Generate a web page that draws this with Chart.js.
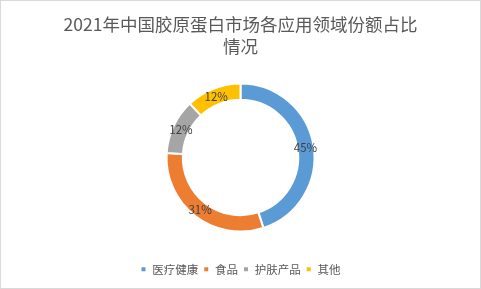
<!DOCTYPE html>
<html>
<head>
<meta charset="utf-8">
<script src="https://cdn.jsdelivr.net/npm/chart.js@4.4.0/dist/chart.umd.min.js"></script>
<style>
html,body{margin:0;padding:0;background:#fff;}
#wrap{width:481px;height:289px;position:relative;}
</style>
</head>
<body>
<div id="wrap"><canvas id="c" width="481" height="289"></canvas></div>
<script>
const titleLines = ['2021年中国胶原蛋白市场各应用领域份额占比', '情况'];
const categories = ['医疗健康', '食品', '护肤产品', '其他'];
const shares = [45, 31, 12, 12];
const colors = ['#5B9BD5', '#ED7D31', '#A5A5A5', '#FFC000'];

const FONT = '"Noto Sans CJK SC", "Noto Sans", sans-serif';

const frame = {
  id: 'frame',
  beforeDraw(chart) {
    const ctx = chart.ctx;
    ctx.save();
    ctx.fillStyle = '#fff';
    ctx.fillRect(0, 0, chart.width, chart.height);
    ctx.strokeStyle = '#D9D9D9';
    ctx.lineWidth = 1;
    ctx.strokeRect(0.5, 0.5, chart.width - 1, chart.height - 1);
    ctx.restore();
  }
};

const sliceLabels = {
  id: 'sliceLabels',
  afterDatasetsDraw(chart) {
    const ctx = chart.ctx;
    const meta = chart.getDatasetMeta(0);
    ctx.save();
    ctx.font = '11.5px ' + FONT;
    ctx.fillStyle = '#404040';
    ctx.textAlign = 'center';
    ctx.textBaseline = 'middle';
    meta.data.forEach((arc, i) => {
      const p = arc.tooltipPosition();
      ctx.fillText(shares[i] + '%', p.x, p.y);
    });
    ctx.restore();
  }
};

new Chart(document.getElementById('c'), {
  type: 'doughnut',
  data: {
    labels: categories,
    datasets: [{
      data: shares,
      backgroundColor: colors,
      borderColor: '#ffffff',
      borderWidth: 2,
      hoverOffset: 0
    }]
  },
  options: {
    responsive: false,
    animation: false,
    cutout: '78%',
    layout: { padding: { top: 0, bottom: 4, left: 0, right: 0 } },
    plugins: {
      tooltip: { enabled: false },
      title: {
        display: true,
        text: titleLines,
        color: '#595959',
        font: { family: FONT, size: 17.5, weight: 'normal', lineHeight: 1.23 },
        padding: { top: 14, bottom: 25.5 }
      },
      legend: {
        position: 'bottom',
        title: {
          display: true,
          text: '',
          font: { size: 10, lineHeight: 1 },
          padding: { top: 0, bottom: 16 }
        },
        labels: {
          color: '#595959',
          font: { family: FONT, size: 11.5 },
          boxWidth: 6,
          boxHeight: 6,
          padding: 5
        }
      }
    }
  },
  plugins: [frame, sliceLabels]
});
</script>
</body>
</html>
